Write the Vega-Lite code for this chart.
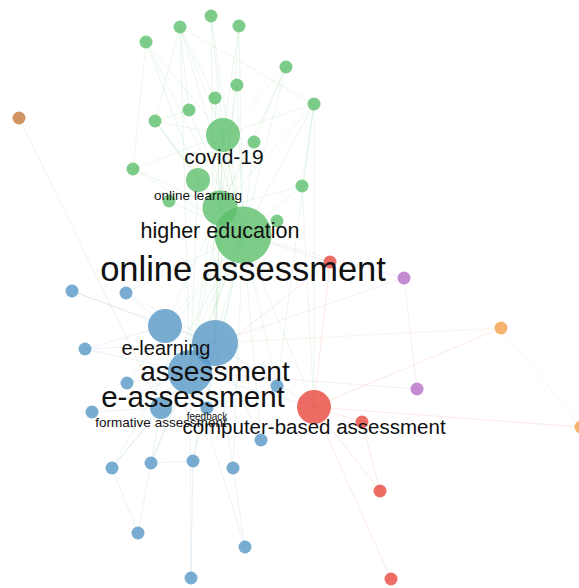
{
  "$schema": "https://vega.github.io/schema/vega-lite/v6.json",
  "width": 579,
  "height": 588,
  "padding": 0,
  "autosize": {"type": "none"},
  "background": "white",
  "config": {"view": {"stroke": null}},
  "datasets": {
    "nodes": [
      {"id": "g1", "x": 211, "y": 16, "c": "green", "w": 13},
      {"id": "g2", "x": 180, "y": 27, "c": "green", "w": 13},
      {"id": "g3", "x": 239, "y": 26, "c": "green", "w": 13},
      {"id": "g4", "x": 146, "y": 42, "c": "green", "w": 13},
      {"id": "g5", "x": 286, "y": 67, "c": "green", "w": 13},
      {"id": "g6", "x": 237, "y": 85, "c": "green", "w": 13},
      {"id": "g7", "x": 215, "y": 98, "c": "green", "w": 13},
      {"id": "g8", "x": 189, "y": 110, "c": "green", "w": 13},
      {"id": "g9", "x": 314, "y": 104, "c": "green", "w": 13},
      {"id": "g10", "x": 155, "y": 121, "c": "green", "w": 13},
      {"id": "g11", "x": 223, "y": 135, "c": "green", "w": 34},
      {"id": "g12", "x": 254, "y": 142, "c": "green", "w": 13},
      {"id": "g13", "x": 133, "y": 169, "c": "green", "w": 13},
      {"id": "g14", "x": 198, "y": 180, "c": "green", "w": 24},
      {"id": "g15", "x": 302, "y": 186, "c": "green", "w": 13},
      {"id": "g16", "x": 169, "y": 201, "c": "green", "w": 13},
      {"id": "g17", "x": 220, "y": 208, "c": "green", "w": 35},
      {"id": "g19", "x": 277, "y": 221, "c": "green", "w": 13},
      {"id": "g18", "x": 243, "y": 235, "c": "green", "w": 57},
      {"id": "n0", "x": 19, "y": 118, "c": "brown", "w": 13},
      {"id": "r1", "x": 330, "y": 262, "c": "red", "w": 13},
      {"id": "p1", "x": 404, "y": 278, "c": "purple", "w": 13},
      {"id": "b1", "x": 72, "y": 291, "c": "blue", "w": 13},
      {"id": "b2", "x": 126, "y": 293, "c": "blue", "w": 13},
      {"id": "b3", "x": 165, "y": 326, "c": "blue", "w": 34},
      {"id": "b4", "x": 215, "y": 343, "c": "blue", "w": 46},
      {"id": "b5", "x": 85, "y": 349, "c": "blue", "w": 13},
      {"id": "b6", "x": 190, "y": 372, "c": "blue", "w": 44},
      {"id": "b7", "x": 127, "y": 383, "c": "blue", "w": 13},
      {"id": "b8", "x": 277, "y": 386, "c": "blue", "w": 13},
      {"id": "b9", "x": 161, "y": 408, "c": "blue", "w": 22},
      {"id": "b10", "x": 207, "y": 408, "c": "blue", "w": 13},
      {"id": "b11", "x": 92, "y": 412, "c": "blue", "w": 13},
      {"id": "b12", "x": 261, "y": 440, "c": "blue", "w": 13},
      {"id": "b13", "x": 112, "y": 468, "c": "blue", "w": 13},
      {"id": "b14", "x": 151, "y": 463, "c": "blue", "w": 13},
      {"id": "b15", "x": 193, "y": 461, "c": "blue", "w": 13},
      {"id": "b16", "x": 233, "y": 468, "c": "blue", "w": 13},
      {"id": "b17", "x": 138, "y": 533, "c": "blue", "w": 13},
      {"id": "b18", "x": 245, "y": 547, "c": "blue", "w": 13},
      {"id": "b19", "x": 191, "y": 578, "c": "blue", "w": 13},
      {"id": "r2", "x": 314, "y": 407, "c": "red", "w": 34},
      {"id": "r3", "x": 362, "y": 422, "c": "red", "w": 13},
      {"id": "r4", "x": 380, "y": 491, "c": "red", "w": 13},
      {"id": "r5", "x": 391, "y": 579, "c": "red", "w": 13},
      {"id": "p2", "x": 417, "y": 389, "c": "purple", "w": 13},
      {"id": "o1", "x": 501, "y": 328, "c": "orange", "w": 13},
      {"id": "o2", "x": 581, "y": 427, "c": "orange", "w": 13}
    ],
    "edges": [
      {"s": "g18", "t": "g1"}, {"s": "g18", "t": "g2"}, {"s": "g18", "t": "g3"},
      {"s": "g18", "t": "g4"}, {"s": "g18", "t": "g5"}, {"s": "g18", "t": "g6"},
      {"s": "g18", "t": "g7"}, {"s": "g18", "t": "g8"}, {"s": "g18", "t": "g9"},
      {"s": "g18", "t": "g10"}, {"s": "g18", "t": "g11"}, {"s": "g18", "t": "g12"},
      {"s": "g18", "t": "g13"}, {"s": "g18", "t": "g14"}, {"s": "g18", "t": "g15"},
      {"s": "g18", "t": "g16"}, {"s": "g18", "t": "g17"}, {"s": "g18", "t": "g19"},
      {"s": "g18", "t": "b3"}, {"s": "g18", "t": "b4"}, {"s": "g18", "t": "b6"},
      {"s": "g18", "t": "b9"}, {"s": "g18", "t": "b14"}, {"s": "g18", "t": "b15"},
      {"s": "g18", "t": "b16"}, {"s": "g18", "t": "b12"}, {"s": "g18", "t": "b8"},
      {"s": "g18", "t": "r2"}, {"s": "g18", "t": "r1"}, {"s": "g18", "t": "b2"},
      {"s": "g18", "t": "b7"}, {"s": "g18", "t": "b10"}, {"s": "g18", "t": "b13"},
      {"s": "g11", "t": "b4"}, {"s": "g11", "t": "b6"}, {"s": "g17", "t": "b4"},
      {"s": "g17", "t": "b6"}, {"s": "g17", "t": "b3"}, {"s": "g14", "t": "b6"},
      {"s": "g2", "t": "b6"}, {"s": "g1", "t": "b4"}, {"s": "g3", "t": "b4"},
      {"s": "g2", "t": "g10"}, {"s": "g2", "t": "g8"}, {"s": "g2", "t": "g11"},
      {"s": "g2", "t": "g7"}, {"s": "g2", "t": "g9"}, {"s": "g4", "t": "g13"},
      {"s": "g4", "t": "g11"}, {"s": "g4", "t": "g14"}, {"s": "g1", "t": "g11"},
      {"s": "g3", "t": "g11"}, {"s": "g10", "t": "g11"}, {"s": "g10", "t": "g8"},
      {"s": "g10", "t": "g14"}, {"s": "g10", "t": "g17"}, {"s": "g5", "t": "g12"},
      {"s": "g5", "t": "g17"}, {"s": "g5", "t": "g11"}, {"s": "g9", "t": "g17"},
      {"s": "g9", "t": "g15"}, {"s": "g9", "t": "g11"}, {"s": "g13", "t": "g11"},
      {"s": "g13", "t": "g17"}, {"s": "g6", "t": "g17"}, {"s": "g7", "t": "g17"},
      {"s": "g12", "t": "g17"}, {"s": "g15", "t": "g17"}, {"s": "g11", "t": "g17"},
      {"s": "g9", "t": "r2"}, {"s": "g15", "t": "r2"}, {"s": "g9", "t": "b8"},
      {"s": "b1", "t": "b3"}, {"s": "b1", "t": "b4"}, {"s": "b2", "t": "b3"},
      {"s": "b2", "t": "b4"}, {"s": "b5", "t": "b3"}, {"s": "b5", "t": "b4"},
      {"s": "b5", "t": "b6"}, {"s": "b7", "t": "b6"}, {"s": "b7", "t": "b4"},
      {"s": "b11", "t": "b6"}, {"s": "b11", "t": "b9"}, {"s": "b13", "t": "b9"},
      {"s": "b13", "t": "b17"}, {"s": "b13", "t": "b6"}, {"s": "b14", "t": "b6"},
      {"s": "b14", "t": "b15"}, {"s": "b15", "t": "b19"}, {"s": "b15", "t": "b4"},
      {"s": "b16", "t": "b18"}, {"s": "b16", "t": "b4"}, {"s": "b12", "t": "b4"},
      {"s": "b12", "t": "b6"}, {"s": "b8", "t": "b4"}, {"s": "b17", "t": "b9"},
      {"s": "b19", "t": "b6"}, {"s": "b18", "t": "b6"}, {"s": "b3", "t": "b4"},
      {"s": "b3", "t": "b6"}, {"s": "b4", "t": "b6"}, {"s": "b9", "t": "b6"},
      {"s": "b10", "t": "b4"}, {"s": "b4", "t": "r2"}, {"s": "b6", "t": "r2"},
      {"s": "r2", "t": "r3"}, {"s": "r2", "t": "r5"}, {"s": "r3", "t": "r4"},
      {"s": "r2", "t": "r4"}, {"s": "r1", "t": "r2"}, {"s": "r1", "t": "b6"},
      {"s": "r2", "t": "o1"}, {"s": "r2", "t": "o2"}, {"s": "o1", "t": "o2"},
      {"s": "o1", "t": "b4"}, {"s": "p1", "t": "p2"}, {"s": "p1", "t": "b4"},
      {"s": "p2", "t": "b6"}, {"s": "n0", "t": "b9"}, {"s": "p1", "t": "g18"}
    ],
    "labels": [
      {"label": "covid-19", "x": 224, "y": 158, "fs": 21},
      {"label": "online learning", "x": 198, "y": 196, "fs": 13.5},
      {"label": "higher education", "x": 220, "y": 232, "fs": 21.5},
      {"label": "online assessment", "x": 243, "y": 271, "fs": 34.5},
      {"label": "e-learning", "x": 166, "y": 349, "fs": 20},
      {"label": "assessment", "x": 215, "y": 373, "fs": 28},
      {"label": "e-assessment", "x": 193, "y": 398, "fs": 29.5},
      {"label": "formative assessment", "x": 161, "y": 423, "fs": 13.5},
      {"label": "feedback", "x": 207, "y": 417, "fs": 10},
      {"label": "computer-based assessment", "x": 314, "y": 428, "fs": 20.5}
    ]
  },
  "layer": [
    {
      "data": {"name": "edges"},
      "transform": [
        {"lookup": "s", "from": {"data": {"name": "nodes"}, "key": "id", "fields": ["x", "y", "c"]}, "as": ["sx", "sy", "c"]},
        {"lookup": "t", "from": {"data": {"name": "nodes"}, "key": "id", "fields": ["x", "y"]}, "as": ["tx", "ty"]}
      ],
      "mark": {"type": "rule", "strokeWidth": 1, "opacity": 0.12},
      "encoding": {
        "x": {"field": "sx", "type": "quantitative", "scale": {"domain": [0, 579], "nice": false, "zero": false}, "axis": null},
        "y": {"field": "sy", "type": "quantitative", "scale": {"domain": [0, 588], "nice": false, "zero": false, "reverse": true}, "axis": null},
        "x2": {"field": "tx"},
        "y2": {"field": "ty"},
        "color": {"field": "c", "type": "nominal", "legend": null,
          "scale": {"domain": ["green", "blue", "red", "purple", "orange", "brown"],
                    "range": ["#5cbf6c", "#5897c6", "#e8473d", "#b56ec6", "#f4a04c", "#c47a3c"]}}
      }
    },
    {
      "data": {"name": "nodes"},
      "mark": {"type": "circle", "opacity": 0.8, "stroke": null},
      "encoding": {
        "x": {"field": "x", "type": "quantitative", "scale": {"domain": [0, 579], "nice": false, "zero": false}, "axis": null},
        "y": {"field": "y", "type": "quantitative", "scale": {"domain": [0, 588], "nice": false, "zero": false, "reverse": true}, "axis": null},
        "size": {"field": "w", "type": "quantitative", "legend": null,
          "scale": {"type": "pow", "exponent": 2, "domain": [0, 60], "range": [0, 3600]}},
        "color": {"field": "c", "type": "nominal", "legend": null,
          "scale": {"domain": ["green", "blue", "red", "purple", "orange", "brown"],
                    "range": ["#5cbf6c", "#5897c6", "#e8473d", "#b56ec6", "#f4a04c", "#c47a3c"]}}
      }
    },
    {
      "data": {"name": "labels"},
      "mark": {"type": "text", "font": "Liberation Sans", "align": "center", "baseline": "middle", "color": "#111111"},
      "encoding": {
        "x": {"field": "x", "type": "quantitative", "scale": {"domain": [0, 579], "nice": false, "zero": false}, "axis": null},
        "y": {"field": "y", "type": "quantitative", "scale": {"domain": [0, 588], "nice": false, "zero": false, "reverse": true}, "axis": null},
        "text": {"field": "label", "type": "nominal"},
        "size": {"field": "fs", "type": "quantitative", "legend": null,
          "scale": {"type": "linear", "domain": [0, 40], "range": [0, 40]}}
      }
    }
  ],
  "resolve": {"scale": {"size": "independent"}}
}
